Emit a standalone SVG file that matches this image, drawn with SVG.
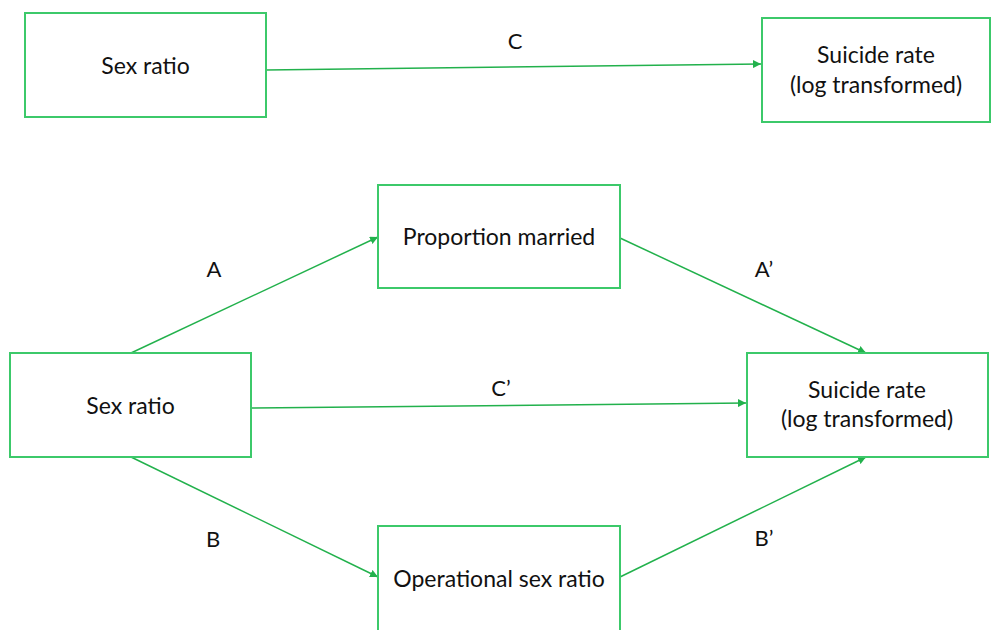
<svg xmlns="http://www.w3.org/2000/svg" width="992" height="630" viewBox="0 0 992 630">
<defs>
<style>
.box{fill:#fff;stroke:#3cc96a;stroke-width:2}
.t{font-family:Lato,"Open Sans",sans-serif;font-size:23px;fill:#111;text-anchor:middle}
.l{font-family:Lato,"Open Sans",sans-serif;font-size:22px;fill:#111;text-anchor:middle}
.e{stroke:#22b14c;stroke-width:1.5;fill:none;marker-end:url(#ah)}
</style>
<marker id="ah" viewBox="0 0 10 10" refX="10" refY="5" markerWidth="8" markerHeight="8" markerUnits="userSpaceOnUse" orient="auto">
<path d="M0,0 L10,5 L0,10 z" fill="#22b14c"/>
</marker>
</defs>
<rect width="992" height="630" fill="#fff"/>
<g id="connectors">
<line class="e" x1="266" y1="70" x2="761" y2="64"/>
<line class="e" x1="131" y1="353" x2="378" y2="237"/>
<line class="e" x1="620" y1="238" x2="866" y2="353"/>
<line class="e" x1="251" y1="408" x2="746" y2="403"/>
<line class="e" x1="131" y1="457" x2="378" y2="577"/>
<line class="e" x1="620" y1="577" x2="866" y2="457"/>
<text class="l" x="515" y="49">C</text>
<text class="l" x="214" y="277">A</text>
<text class="l" x="764" y="277">A’</text>
<text class="l" x="501" y="396">C’</text>
<text class="l" x="213" y="547">B</text>
<text class="l" x="764" y="546">B’</text>
</g>
<g id="sex-ratio-top">
<rect class="box" x="25" y="13" width="241" height="104"/>
<text class="t" x="145.5" y="74">Sex ratio</text>
</g>
<g id="suicide-top">
<rect class="box" x="762" y="18" width="228" height="104"/>
<text class="t" x="876" y="63">Suicide rate</text>
<text class="t" x="876" y="93">(log transformed)</text>
</g>
<g id="proportion-married">
<rect class="box" x="378" y="185" width="242" height="103"/>
<text class="t" x="499" y="245">Proportion married</text>
</g>
<g id="sex-ratio-bottom">
<rect class="box" x="10" y="353" width="241" height="104"/>
<text class="t" x="130.5" y="414">Sex ratio</text>
</g>
<g id="suicide-bottom">
<rect class="box" x="747" y="353" width="241" height="104"/>
<text class="t" x="867" y="398">Suicide rate</text>
<text class="t" x="867" y="427">(log transformed)</text>
</g>
<g id="operational-sex-ratio">
<rect class="box" x="378" y="526" width="242" height="110"/>
<text class="t" x="499" y="587">Operational sex ratio</text>
</g>
</svg>
